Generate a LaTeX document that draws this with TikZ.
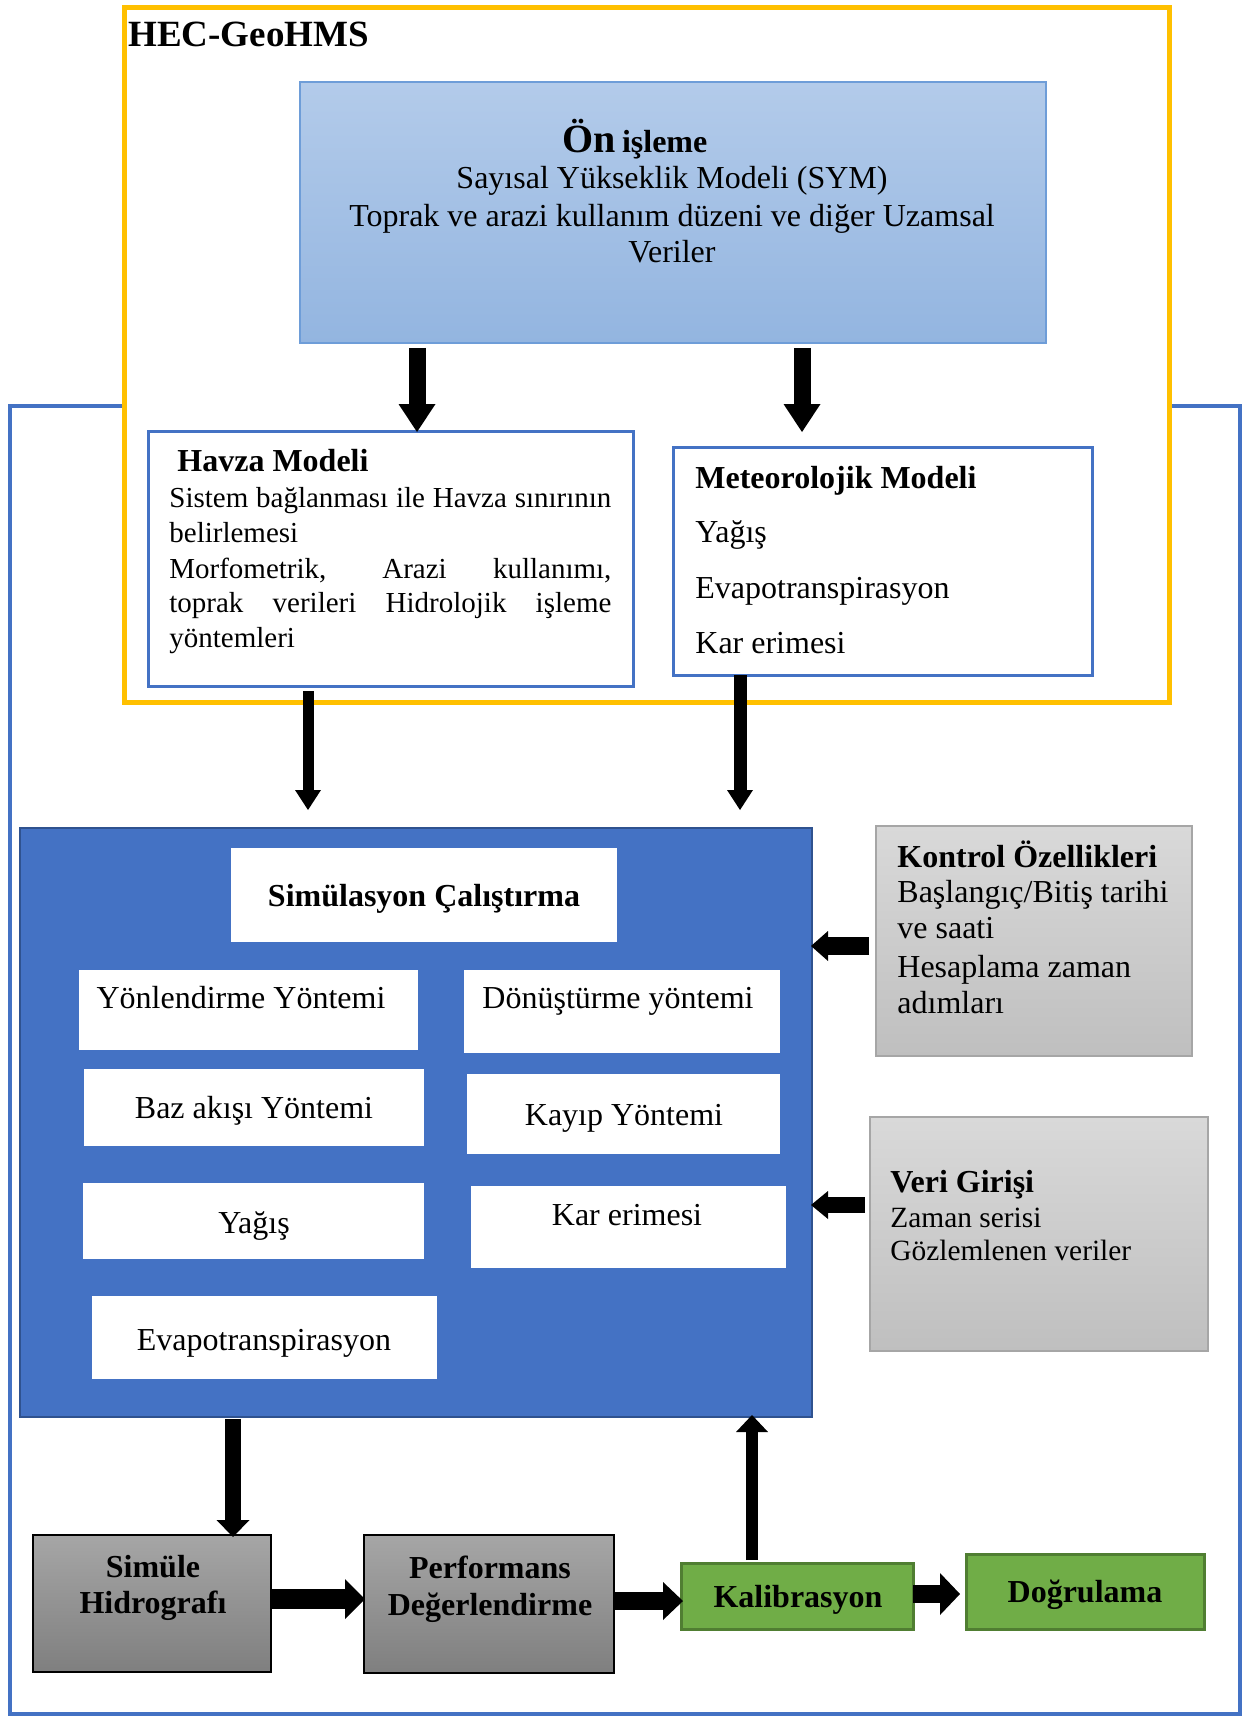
\documentclass[tikz,border=0pt]{standalone}
\usepackage{fontspec}
\setmainfont{Liberation Serif}
\usetikzlibrary{arrows.meta,calc}

\definecolor{frameblue}{HTML}{4472C4}
\definecolor{simedge}{HTML}{2F528F}
\definecolor{gold}{HTML}{FFC000}
\definecolor{preTop}{HTML}{B3CBEA}
\definecolor{preBot}{HTML}{93B5E0}
\definecolor{preEdge}{HTML}{6E9DD8}
\definecolor{lgTop}{HTML}{D9D9D9}
\definecolor{lgBot}{HTML}{BFBFBF}
\definecolor{lgEdge}{HTML}{A6A6A6}
\definecolor{dkTop}{HTML}{A6A6A6}
\definecolor{dkBot}{HTML}{7F7F7F}
\definecolor{okGreen}{HTML}{70AD47}
\definecolor{okEdge}{HTML}{507E32}

\newcommand{\szOn}{\fontsize{20pt}{24pt}\selectfont}
\newcommand{\szBig}{\fontsize{18.5pt}{22pt}\selectfont}
\newcommand{\szA}{\fontsize{16pt}{19pt}\selectfont}
\newcommand{\szB}{\fontsize{14.5pt}{17pt}\selectfont}
\newcommand{\szC}{\fontsize{14.7pt}{17pt}\selectfont}

\begin{document}
\begin{tikzpicture}[x=0.5pt,y=-0.5pt,
  box/.style={anchor=north west, inner sep=0pt, outer sep=0pt},
  boxsz/.style 2 args={minimum width=#1*0.5pt, minimum height=#2*0.5pt},
  whitebox/.style={box, fill=white},
  modelbox/.style={box, fill=white, draw=frameblue, line width=1.5pt},
  lightgray/.style={box, top color=lgTop, bottom color=lgBot, draw=lgEdge, line width=0.75pt},
  darkgray/.style={box, top color=dkTop, bottom color=dkBot, draw=black, line width=0.75pt},
  greenbox/.style={box, fill=okGreen, draw=okEdge, line width=1.5pt},
  lbl/.style={inner sep=0pt, anchor=base, font=\szA},
  lblw/.style={inner sep=0pt, anchor=base west, font=\szA},
  barrow/.style n args={3}{draw=black, line width=#1,
    -{Triangle[length=#3, width=#2, line width=0pt]}}
]
\useasboundingbox (0,0) rectangle (1244,1717);

% outer HEC-HMS frame and the HEC-GeoHMS frame in front of it
\draw[frameblue, line width=2.25pt] (10,406) rectangle (1240,1714);
\draw[gold, line width=2.5pt, fill=white] (124,8) rectangle (1169,702);
\node[lblw, font=\szBig\bfseries] (geo) at (128,47) {HEC-GeoHMS};

% pre-processing
\node[box, boxsz={746}{261}, top color=preTop, bottom color=preBot,
      draw=preEdge, line width=0.75pt] (on) at (300,82) {};
\node[lbl, font=\bfseries] (ont) at (635,153) {{\szOn Ön}\hspace{3pt}{\szA işleme}};
\node[lbl] (on1) at (672,189) {Sayısal Yükseklik Modeli (SYM)};
\node[lbl] (on2) at (672,227) {Toprak ve arazi kullanım düzeni ve diğer Uzamsal};
\node[lbl] (on3) at (672,263) {Veriler};

% basin model
\node[modelbox, boxsz={485}{255}] (hv) at (148,431) {};
\node[lblw, font=\szA\bfseries] (hvt) at (177,471) {Havza Modeli};
\node[lblw, font=\szB] (hv1) at (169,507) {\makebox[221pt][s]{Sistem bağlanması ile Havza sınırının}};
\node[lblw, font=\szB] (hv2) at (169,542) {belirlemesi};
\node[lblw, font=\szB] (hv3) at (169,578) {\makebox[221pt][s]{Morfometrik, Arazi kullanımı,}};
\node[lblw, font=\szB] (hv4) at (169,612) {\makebox[221pt][s]{toprak verileri Hidrolojik işleme}};
\node[lblw, font=\szB] (hv5) at (169,647) {yöntemleri};

% meteorological model
\node[modelbox, boxsz={419}{228}] (mt) at (673,447) {};
\node[lblw, font=\szA\bfseries] (mtt) at (695,488) {Meteorolojik Modeli};
\node[lblw] (mt1) at (695,542) {Yağış};
\node[lblw] (mt2) at (695,598) {Evapotranspirasyon};
\node[lblw] (mt3) at (695,653) {Kar erimesi};

% simulation run
\node[box, boxsz={792}{589}, fill=frameblue, draw=simedge, line width=1pt] (sim) at (20,828) {};
\node[whitebox, boxsz={386}{94}] (sc) at (231,848) {};
\node[lbl, font=\szA\bfseries] (sct) at (424,906) {Simülasyon Çalıştırma};
\node[whitebox, boxsz={339}{80}] (yn) at (79,970) {};
\node[lbl] (ynt) at (241,1008) {Yönlendirme Yöntemi};
\node[whitebox, boxsz={316}{83}] (dn) at (464,970) {};
\node[lbl] (dnt) at (618,1008) {Dönüştürme yöntemi};
\node[whitebox, boxsz={340}{77}] (bz) at (84,1069) {};
\node[lbl] (bzt) at (254,1118) {Baz akışı Yöntemi};
\node[whitebox, boxsz={313}{80}] (ky) at (467,1074) {};
\node[lbl] (kyt) at (624,1125) {Kayıp Yöntemi};
\node[whitebox, boxsz={341}{76}] (yg) at (83,1183) {};
\node[lbl] (ygt) at (254,1233) {Yağış};
\node[whitebox, boxsz={315}{82}] (kr) at (471,1186) {};
\node[lbl] (krt) at (627,1225) {Kar erimesi};
\node[whitebox, boxsz={345}{83}] (ev) at (92,1296) {};
\node[lbl] (evt) at (264,1350) {Evapotranspirasyon};

% control specifications and input data
\node[lightgray, boxsz={316}{230}] (ko) at (876,826) {};
\node[lblw, font=\szA\bfseries] (kot) at (897,867) {Kontrol Özellikleri};
\node[lblw] (ko1) at (897,902) {Başlangıç/Bitiş tarihi};
\node[lblw] (ko2) at (897,938) {ve saati};
\node[lblw] (ko3) at (897,977) {Hesaplama zaman};
\node[lblw] (ko4) at (897,1013) {adımları};

\node[lightgray, boxsz={338}{234}] (vg) at (870,1117) {};
\node[lblw, font=\szA\bfseries] (vgt) at (890,1192) {Veri Girişi};
\node[lblw, font=\szC] (vg1) at (890,1227) {Zaman serisi};
\node[lblw, font=\szC] (vg2) at (890,1260) {Gözlemlenen veriler};

% results chain
\node[darkgray, boxsz={238}{137}] (sh) at (33,1535) {};
\node[lbl, font=\szA\bfseries] (sh1) at (153,1577) {Simüle};
\node[lbl, font=\szA\bfseries] (sh2) at (153,1613) {Hidrografı};
\node[darkgray, boxsz={250}{138}] (pf) at (364,1535) {};
\node[lbl, font=\szA\bfseries] (pf1) at (490,1578) {Performans};
\node[lbl, font=\szA\bfseries] (pf2) at (490,1615) {Değerlendirme};
\node[greenbox, boxsz={232}{66}] (kl) at (681,1563) {};
\node[lbl, font=\szA\bfseries] (klt) at (798,1607) {Kalibrasyon};
\node[greenbox, boxsz={238}{75}] (dg) at (966,1554) {};
\node[lbl, font=\szA\bfseries] (dgt) at (1085,1602) {Doğrulama};

% connectors
\draw[barrow={8.5pt}{18.5pt}{14pt}] ($(on.south)+(-256,5)$) -- ($(hv.north)+(26.5,1)$);
\draw[barrow={8.5pt}{18.5pt}{14pt}] ($(on.south)+(129,5)$) -- ($(mt.north)+(-80.5,-15)$);
\draw[barrow={5.5pt}{13pt}{10pt}] ($(hv.south)+(-82.5,5)$) -- ($(sim.north)+(-108,-18)$);
\draw[barrow={6.5pt}{13pt}{10pt}] ($(mt.south)+(-142.5,0)$) -- ($(sim.north)+(324,-18)$);
\draw[barrow={9pt}{15pt}{8.5pt}] ($(ko.west)+(-7,5)$) -- ($(sim.east)+(-1,-176.5)$);
\draw[barrow={8pt}{14pt}{8.5pt}] ($(vg.west)+(-5,-29)$) -- ($(sim.east)+(-1,82.5)$);
\draw[barrow={8pt}{16.5pt}{8.5pt}] ($(sim.south)+(-183,2)$) -- ($(sh.north)+(81,2)$);
\draw[barrow={10pt}{20pt}{10pt}] ($(sh.east)+(0,-4.5)$) -- ($(pf.west)+(1,-5)$);
\draw[barrow={9pt}{19pt}{10pt}] ($(pf.east)+(0,-3)$) -- ($(kl.west)+(2,5)$);
\draw[barrow={9pt}{21pt}{10pt}] ($(kl.east)+(0,-2)$) -- ($(dg.west)+(-6,2.5)$);
\draw[barrow={6pt}{16pt}{8.5pt}] ($(kl.north)+(-45,-3)$) -- ($(sim.south)+(336,-2)$);
\end{tikzpicture}
\end{document}
